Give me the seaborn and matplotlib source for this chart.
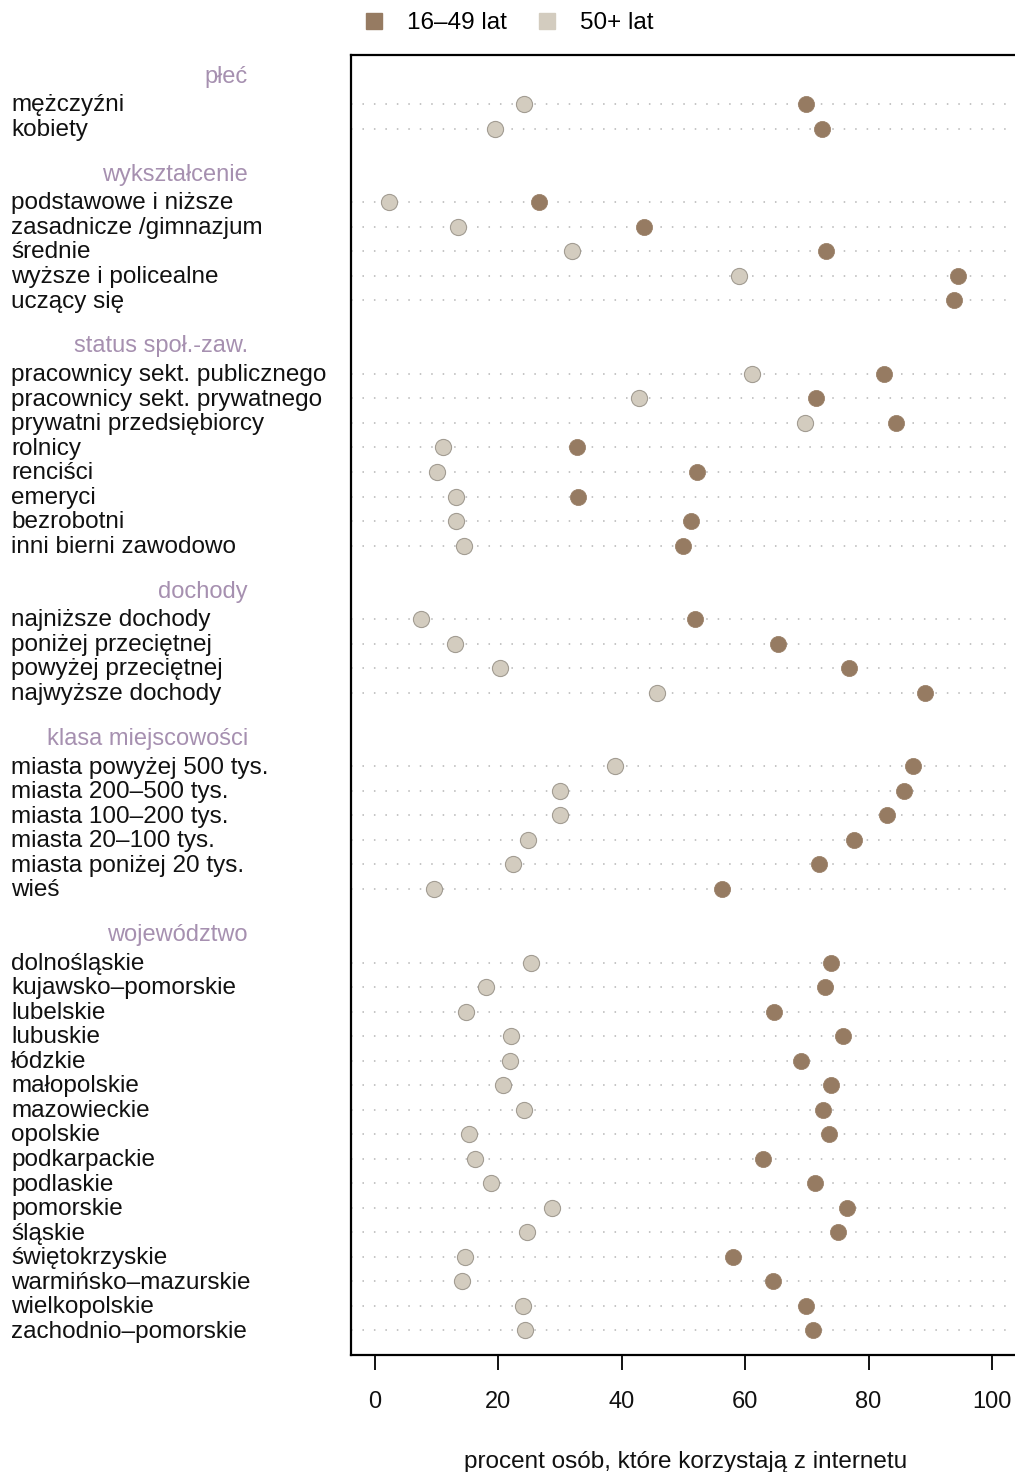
import numpy as np
import pandas as pd
import matplotlib
matplotlib.use("Agg")
import matplotlib.pyplot as plt
import matplotlib.transforms as mtransforms
from matplotlib.lines import Line2D
import seaborn as sns

# groups and their categories (top to bottom)
groups = ["płeć", "wykształcenie", "status społ.-zaw.", "dochody",
          "klasa miejscowości", "województwo"]
categories = [
    ["mężczyźni", "kobiety"],
    ["podstawowe i niższe", "zasadnicze /gimnazjum", "średnie",
     "wyższe i policealne", "uczący się"],
    ["pracownicy sekt. publicznego", "pracownicy sekt. prywatnego",
     "prywatni przedsiębiorcy", "rolnicy", "renciści", "emeryci",
     "bezrobotni", "inni bierni zawodowo"],
    ["najniższe dochody", "poniżej przeciętnej", "powyżej przeciętnej",
     "najwyższe dochody"],
    ["miasta powyżej 500 tys.", "miasta 200–500 tys.", "miasta 100–200 tys.",
     "miasta 20–100 tys.", "miasta poniżej 20 tys.", "wieś"],
    ["dolnośląskie", "kujawsko–pomorskie", "lubelskie", "lubuskie", "łódzkie",
     "małopolskie", "mazowieckie", "opolskie", "podkarpackie", "podlaskie",
     "pomorskie", "śląskie", "świętokrzyskie", "warmińsko–mazurskie",
     "wielkopolskie", "zachodnio–pomorskie"],
]

# percent using internet, 16-49 years
young = [
    [69.9, 72.4],
    [26.6, 43.6, 73.1, 94.5, 93.8],
    [82.5, 71.5, 84.4, 32.7, 52.2, 32.9, 51.2, 49.9],
    [51.9, 65.3, 76.8, 89.1],
    [87.2, 85.7, 83.0, 77.6, 72.0, 56.2],
    [73.9, 72.9, 64.7, 75.9, 69.0, 73.9, 72.6, 73.6, 62.9, 71.3, 76.5, 75.0,
     58.0, 64.5, 69.9, 71.0],
]
# percent using internet, 50+ years
older = [
    [24.1, 19.4],
    [2.3, 13.5, 31.9, 59.0, np.nan],
    [61.1, 42.8, 69.7, 11.0, 10.0, 13.1, 13.1, 14.4],
    [7.5, 13.0, 20.3, 45.7],
    [38.9, 30.0, 30.0, 24.8, 22.4, 9.6],
    [25.3, 18.0, 14.7, 22.0, 21.9, 20.7, 24.1, 15.2, 16.2, 18.8, 28.7, 24.6,
     14.6, 14.1, 24.0, 24.3],
]
series_names = ["16–49 lat", "50+ lat"]
xticks = [0, 20, 40, 60, 80, 100]

dark = "#967b62"
light = "#d3ccbf"
header_col = "#a690b0"

plt.rcParams["font.family"] = ["Liberation Sans", "DejaVu Sans"]

# build long table with row positions: header row, items, blank row
rows = []
header_rows = []
pos = 1
for g, cats, yv, ov in zip(groups, categories, young, older):
    header_rows.append((g, pos))
    pos += 1
    for c, a, b in zip(cats, yv, ov):
        rows.append({"label": c, "row": pos, "wiek": series_names[0], "value": a})
        rows.append({"label": c, "row": pos, "wiek": series_names[1], "value": b})
        pos += 1
    pos += 1
df = pd.DataFrame(rows)
n_rows = pos - 1

fig = plt.figure(figsize=(10.15, 14.72), dpi=100)
ax = fig.add_axes([351 / 1015, 1 - 1355 / 1472, 670 / 1015, 1300 / 1472])

item_rows = df["row"].unique()
ax.hlines(item_rows, -3.9, 104.5, colors="#b5b5b5", linestyles=(0, (1, 6.5)),
          linewidth=1.1, zorder=1)

sns.scatterplot(data=df[df["wiek"] == series_names[1]], x="value", y="row",
                color=light, edgecolor="#a29c92", linewidth=0.8, s=135,
                ax=ax, zorder=3, legend=False)
sns.scatterplot(data=df[df["wiek"] == series_names[0]], x="value", y="row",
                color=dark, edgecolor=dark, linewidth=0.5, s=135,
                ax=ax, zorder=4, legend=False)

ax.set_xlim(-3.9, 104.7)
ax.set_ylim(n_rows + 0.0, 0)
ax.set_yticks([])
ax.set_xticks(xticks)
ax.set_xticklabels([str(t) for t in xticks], fontsize=17, color="#111111")
ax.tick_params(axis="x", direction="out", length=11, width=1.3, pad=15)
ax.set_xlabel("procent osób, które korzystają z internetu", fontsize=17.5,
              labelpad=27, color="#111111")
ax.set_ylabel("")
for s in ["top", "left", "bottom"]:
    ax.spines[s].set_linewidth(1.6)
ax.spines["right"].set_visible(False)

# row labels and group headers in figure x / data y
trans = mtransforms.blended_transform_factory(fig.transFigure, ax.transData)
for lab, r in df[["label", "row"]].drop_duplicates().itertuples(index=False):
    ax.text(11 / 1015, r + 0.05, lab, transform=trans, ha="left", va="center",
            fontsize=17.5, color="#111111", clip_on=False)
for g, r in header_rows:
    ax.text(248 / 1015, r - 0.12, g, transform=trans, ha="right", va="center",
            fontsize=17, color=header_col, clip_on=False)

handles = [Line2D([], [], marker="s", linestyle="", markersize=12,
                  markerfacecolor=c, markeredgecolor=c) for c in (dark, light)]
fig.legend(handles, series_names, loc="center", bbox_to_anchor=(507 / 1015, 1 - 23 / 1472),
           ncol=2, frameon=False, fontsize=17.5, handletextpad=0.8,
           columnspacing=1.1, handlelength=1.1)

fig.savefig("out.png", dpi=100)
